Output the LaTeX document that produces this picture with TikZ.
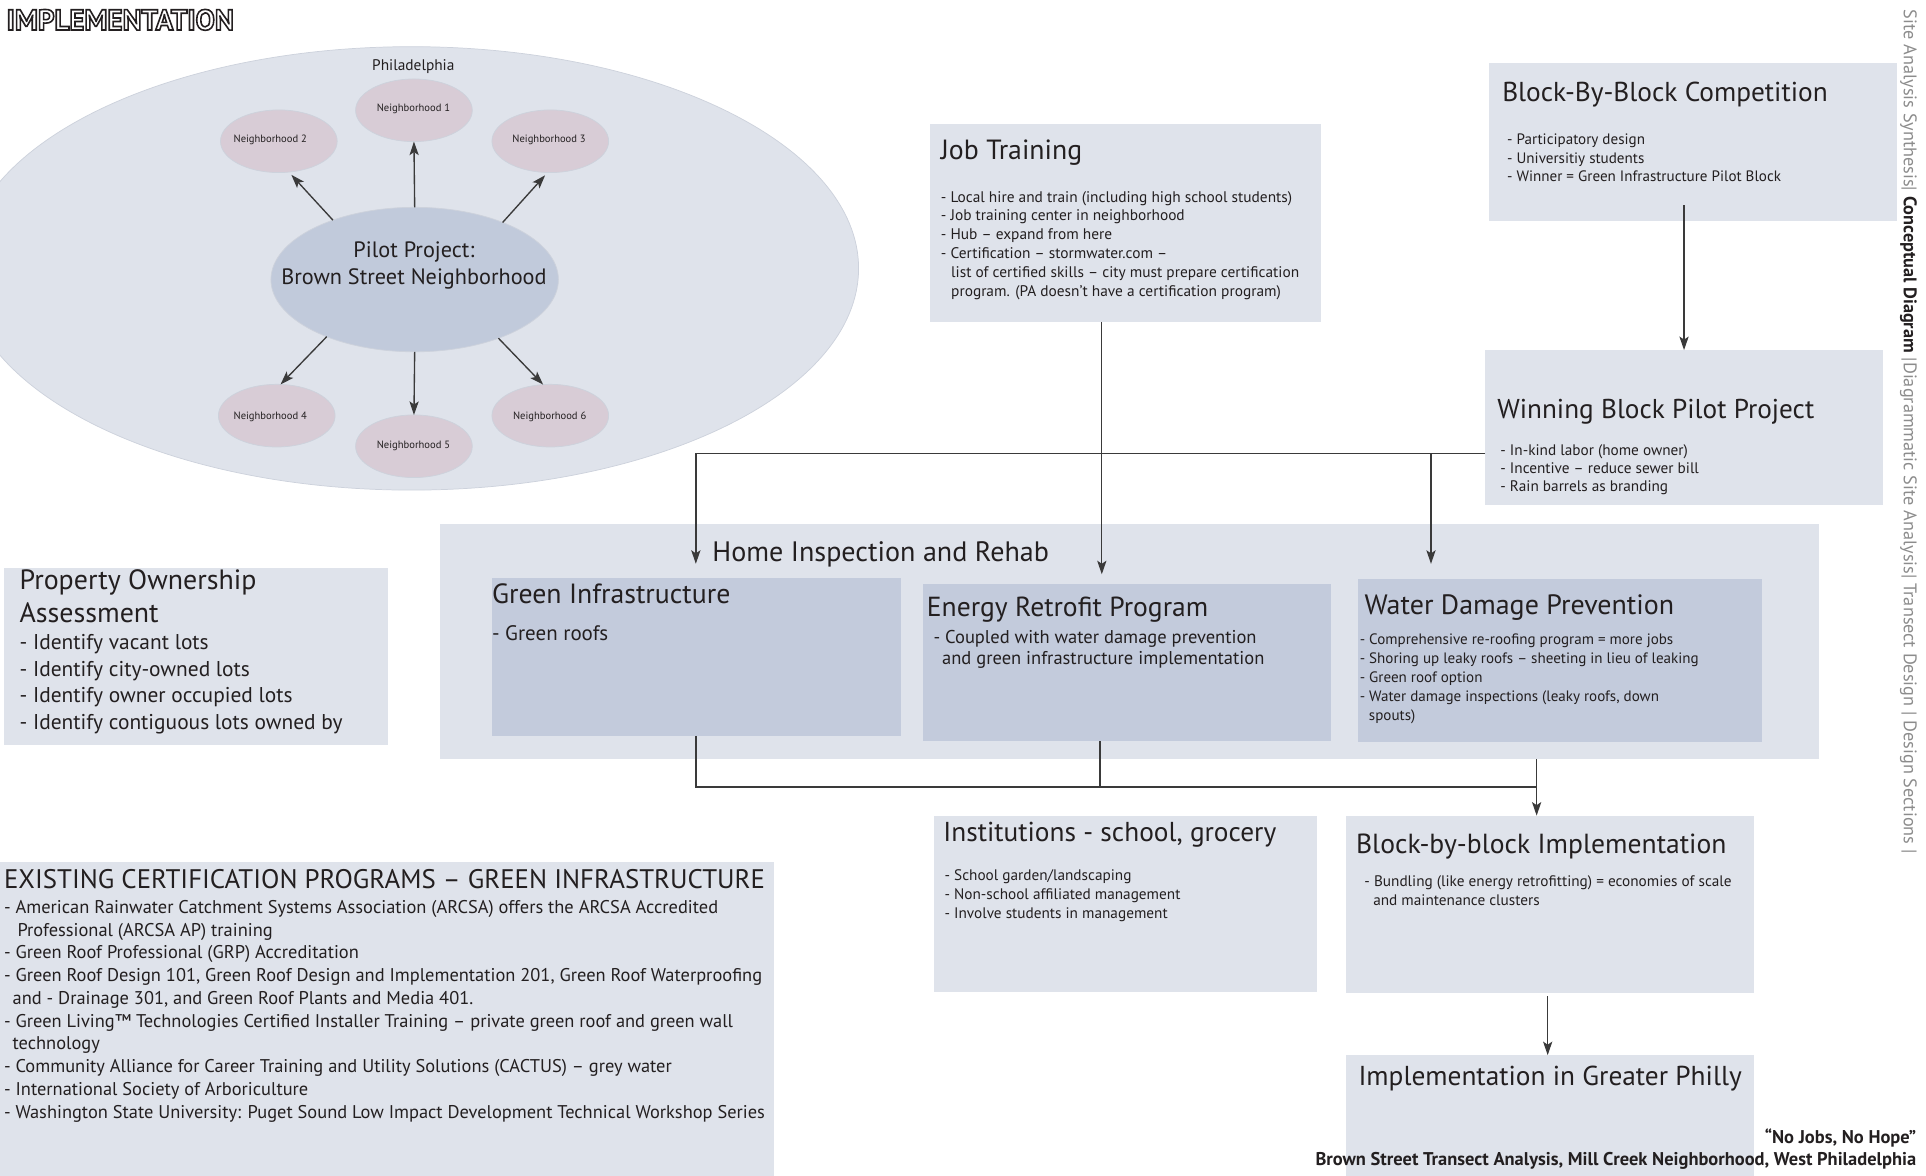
\documentclass[tikz,border=0pt]{standalone}
\usepackage{fontspec}
\setmainfont{PT Sans}
\usetikzlibrary{arrows.meta,shapes.geometric}
\definecolor{lboxc}{HTML}{DFE3EB}
\definecolor{dboxc}{HTML}{C3CBDC}
\definecolor{pilotc}{HTML}{C1CADB}
\definecolor{pinkc}{HTML}{D8CCD6}
\definecolor{ink}{HTML}{231F20}
\definecolor{linec}{HTML}{3A3A3A}
\definecolor{sidegray}{HTML}{8C8C8C}
\definecolor{edgec}{HTML}{CDD2DC}
\newlength\fitlen
\newcommand\fitfont[3]{\settowidth\fitlen{\fontsize{10pt}{12pt}\selectfont #3}\pgfmathsetmacro\fitsz{10*#1/\fitlen}\fontsize{\fitsz pt}{#2 pt}\selectfont}
\newcommand\fitline[2]{{\fitfont{#1}{20}{#2}#2}}
\newcommand\lns[1]{\vtop{\let\\\cr\halign{##\hfil\cr#1\crcr}}}
\newcommand\clns[1]{\vtop{\let\\\cr\halign{\hfil##\hfil\cr#1\crcr}}}
\newcommand\rlns[1]{\vtop{\let\\\cr\halign{\hfil##\cr#1\crcr}}}
\begin{document}
\begin{tikzpicture}[x=1pt,y=-1pt,
  boxl/.style={rectangle,fill=lboxc,draw=none,inner sep=0,anchor=north west},
  boxd/.style={rectangle,fill=dboxc,draw=none,inner sep=0,anchor=north west},
  ell/.style={ellipse,inner sep=0,outer sep=0},
  nbh/.style={ell,fill=pinkc,draw=edgec,line width=0.6pt,minimum width=95pt,minimum height=51pt},
  txt/.style={inner sep=0,outer sep=0,anchor=base west,text=ink},
  ctxt/.style={inner sep=0,outer sep=0,anchor=base,text=ink},
  conn/.style={draw=linec,line width=1.1pt},
  arr/.style={conn,-{Stealth[length=11pt,width=7.5pt,inset=2.5pt]}},
  nbl/.style={ctxt,font=\fitfont{59.6}{10}{Neighborhood 1}}]
\useasboundingbox (0,0) rectangle (1568,957);
\clip (0,0) rectangle (1568,957);

% title
\node[txt] (title) at (5.4,24.4) {\special{pdf:literal direct 1 Tr 1.3 w}\fitline{185}{\bfseries IMPLEMENTATION}\special{pdf:literal direct 0 Tr}};

% Philadelphia diagram
\node[ell,fill=lboxc,draw=edgec,line width=0.6pt,minimum width=728pt,minimum height=361pt] (phil) at (335,218.5) {};
\node[ctxt] (philt) at (336.5,57.5) {\fitline{67}{Philadelphia}};
\node[ell,fill=pilotc,draw=edgec,line width=0.6pt,minimum width=234pt,minimum height=117.6pt] (pilot) at (337.6,227.6) {};
\node[ctxt] (pilott) at (337,209.5) {\fitfont{216}{21.8}{Brown Street Neighborhood}\clns{Pilot Project:\\Brown Street Neighborhood}};
\node[nbh] (n1) at (337,89.8) {};
\node[nbh] (n2) at (227,115) {};
\node[nbh] (n3) at (448,115) {};
\node[nbh] (n4) at (225.3,338.4) {};
\node[nbh] (n5) at (337,363.3) {};
\node[nbh] (n6) at (448,338.4) {};
\node[nbl] (n1t) at (336.6,90.4) {Neighborhood 1};
\node[nbl] (n2t) at (220,115.9) {Neighborhood 2};
\node[nbl] (n3t) at (447,115.9) {Neighborhood 3};
\node[nbl] (n4t) at (220,341.2) {Neighborhood 4};
\node[nbl] (n5t) at (336.6,365) {Neighborhood 5};
\node[nbl] (n6t) at (447.5,341.2) {Neighborhood 6};
\draw[arr] (pilot.90) -- (n1.-90);
\draw[arr,shorten >=3pt] (pilot.144) -- (n2.-72);
\draw[arr,shorten >=3pt] (pilot.33) -- (n3.-95);
\draw[arr] (pilot.213) -- (n4.83);
\draw[arr] (pilot.-90) -- (n5.90);
\draw[arr] (pilot.-35) -- (n6.103);

% boxes
\node[boxl,minimum width=318pt,minimum height=161pt] (jt) at (757,101) {};
\node[boxl,minimum width=332pt,minimum height=128.5pt] (bbc) at (1212,51.5) {};
\node[boxl,minimum width=324pt,minimum height=126pt] (wb) at (1209,285) {};
\node[boxl,minimum width=1123pt,minimum height=192pt] (hir) at (358,426) {};
\node[boxd,minimum width=332.4pt,minimum height=128.6pt] (gi) at (400.6,470) {};
\node[boxd,minimum width=332pt,minimum height=127.8pt] (er) at (751,475.6) {};
\node[boxd,minimum width=329pt,minimum height=133.2pt] (wd) at (1105,470.8) {};
\node[boxl,minimum width=312.7pt,minimum height=144pt] (poa) at (3.3,462) {};
\node[boxl,minimum width=312pt,minimum height=143pt] (inst) at (760,664) {};
\node[boxl,minimum width=331.6pt,minimum height=144pt] (bbi) at (1096,664) {};
\node[boxl,minimum width=331.6pt,minimum height=110pt] (igp) at (1096,859) {};
\node[boxl,minimum width=630pt,minimum height=270pt] (ecp) at (0,701.7) {};

% connectors
\coordinate (bbcS) at (1371,167);
\draw[arr] (bbcS) -- (bbcS |- wb.north);
\coordinate (hL) at (566.5,369);
\coordinate (hM) at (1165,369);
\coordinate (hR) at (wb.west |- hL);
\coordinate (giIn) at (566.5,459);
\coordinate (wdIn) at (1165,459);
\coordinate (jtS) at (897,262);
\coordinate (erIn) at (897,467.5);
\draw[conn] (hR) -- (hL);
\draw[arr] (hL) -- (giIn);
\draw[arr] (hM) -- (wdIn);
\draw[arr] (jtS) -- (erIn);
\coordinate (giS) at (gi.south -| hL);
\coordinate (erS) at (895.5,603.4);
\coordinate (bL) at (566.5,640.6);
\coordinate (bM) at (895.5,640.6);
\coordinate (wdS) at (1251,618);
\coordinate (bR) at (1251,640.6);
\draw[conn] (giS) -- (bL) -- (bR);
\draw[conn] (erS) -- (bM);
\draw[arr] (wdS) -- (wdS |- bbi.north);
\coordinate (bbiS) at (1260,811);
\draw[arr] (bbiS) -- (bbiS |- igp.north);

% texts
\node[txt] (jtt) at (766,130) {\fitline{115}{Job Training}};
\node[txt] (jtb) at (766,164.5) {\fitfont{286}{15.3}{- Local hire and train (including high school students)}\lns{- Local hire and train (including high school students)\\- Job training center in neighborhood\\- Hub – expand from here\\- Certification – stormwater.com –\\\kern8.4pt list of certified skills – city must prepare certification\\\kern8.4pt program. (PA doesn’t have a certification program)}};

\node[txt] (bbct) at (1223,83) {\fitline{265}{Block-By-Block Competition}};
\node[txt] (bbcb) at (1227,118) {\fitfont{223}{15}{- Winner = Green Infrastructure Pilot Block}\lns{- Participatory design\\- Universitiy students\\- Winner = Green Infrastructure Pilot Block}};

\node[txt] (wbt) at (1219,340.6) {\fitline{258}{Winning Block Pilot Project}};
\node[txt] (wbb) at (1221.5,370.5) {\fitfont{152.6}{15}{- In-kind labor (home owner)}\lns{- In-kind labor (home owner)\\- Incentive – reduce sewer bill\\- Rain barrels as branding}};

\node[txt] (poat) at (16,479.6) {\fitfont{192.7}{27.4}{Property Ownership}\lns{Property Ownership\\Assessment}};
\node[txt] (poab) at (16,528.8) {\fitfont{263}{21.6}{- Identify contiguous lots owned by}\lns{- Identify vacant lots\\- Identify city-owned lots\\- Identify owner occupied lots\\- Identify contiguous lots owned by}};

\node[txt] (hirt) at (580,457.4) {\fitline{274}{Home Inspection and Rehab}};
\node[txt] (git) at (400.6,491) {\fitline{194}{Green Infrastructure}};
\node[txt] (gib) at (400.6,521.7) {\fitline{94.6}{- Green roofs}};
\node[txt] (ert) at (754.6,502) {\fitline{229}{Energy Retrofit Program}};
\node[txt] (erb) at (760,523.8) {\fitfont{263}{16.9}{- Coupled with water damage prevention}\lns{- Coupled with water damage prevention\\\kern7pt and green infrastructure implementation}};
\node[txt] (wdt) at (1111,500) {\fitline{252}{Water Damage Prevention}};
\node[txt] (wdb) at (1107,525) {\fitfont{276}{15.4}{- Shoring up leaky roofs – sheeting in lieu of leaking}\lns{- Comprehensive re-roofing program = more jobs\\- Shoring up leaky roofs – sheeting in lieu of leaking\\- Green roof option\\- Water damage inspections (leaky roofs, down\\\kern7.5pt spouts)}};

\node[txt] (instt) at (768,685.4) {\fitline{271}{Institutions - school, grocery}};
\node[txt] (instb) at (769,716.6) {\fitfont{192}{15.4}{- Non-school affiliated management}\lns{- School garden/landscaping\\- Non-school affiliated management\\- Involve students in management}};
\node[txt] (bbit) at (1104,695) {\fitline{301.6}{Block-by-block Implementation}};
\node[txt] (bbib) at (1110.8,721.5) {\fitfont{299}{15.5}{- Bundling (like energy retrofitting) = economies of scale}\lns{- Bundling (like energy retrofitting) = economies of scale\\\kern7.2pt and maintenance clusters}};
\node[txt] (igpt) at (1106,883.6) {\fitline{312}{Implementation in Greater Philly}};

\node[txt] (ecpt) at (3.3,723) {\fitline{619.5}{EXISTING CERTIFICATION PROGRAMS – GREEN INFRASTRUCTURE}};
\node[txt] (ecpb) at (3.3,743.7) {\fitfont{619.5}{18.5}{- Washington State University: Puget Sound Low Impact Development Technical Workshop Series}\lns{- American Rainwater Catchment Systems Association (ARCSA) offers the ARCSA Accredited\\\kern11pt Professional (ARCSA AP) training\\- Green Roof Professional (GRP) Accreditation\\- Green Roof Design 101, Green Roof Design and Implementation 201, Green Roof Waterproofing\\\kern7pt and - Drainage 301, and Green Roof Plants and Media 401.\\- Green Living™ Technologies Certified Installer Training – private green roof and green wall\\\kern7pt technology\\- Community Alliance for Career Training and Utility Solutions (CACTUS) – grey water\\- International Society of Arboriculture\\- Washington State University: Puget Sound Low Impact Development Technical Workshop Series}};

\node[inner sep=0,outer sep=0,anchor=base east,text=ink] (credit) at (1560,931) {\bfseries\fitfont{489}{17.7}{\bfseries Brown Street Transect Analysis, Mill Creek Neighborhood, West Philadelphia}\rlns{“No Jobs, No Hope”\\Brown Street Transect Analysis, Mill Creek Neighborhood, West Philadelphia}};

\node[inner sep=0,outer sep=0,anchor=base west,rotate=-90,text=sidegray] (side) at (1550,8) {\fitline{687}{Site Analysis Synthesis| {\color{ink}\bfseries Conceptual Diagram} |Diagrammatic Site Analysis| Transect Design | Design Sections |}};
\end{tikzpicture}
\end{document}
